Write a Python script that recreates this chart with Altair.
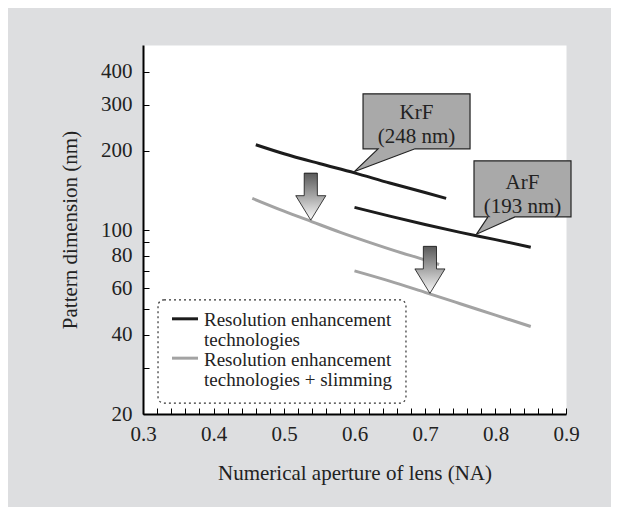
import altair as alt
import pandas as pd

# ---- data ----
krf_na = [0.46, 0.50, 0.55, 0.60, 0.65, 0.70, 0.73]
krf_nm = [211, 195, 179, 165, 151, 139, 132]

arf_na = [0.60, 0.65, 0.70, 0.75, 0.80, 0.85]
arf_nm = [122, 113, 105, 98, 92, 86]

krf_slim_na = [0.455, 0.50, 0.54, 0.58, 0.62, 0.66, 0.70, 0.72]
krf_slim_nm = [132, 118, 107.5, 98, 90, 83, 77, 74]

arf_slim_na = [0.60, 0.65, 0.70, 0.75, 0.80, 0.85]
arf_slim_nm = [70, 64, 58, 52.5, 47.5, 43]

series_labels = ["Resolution enhancement\ntechnologies",
                 "Resolution enhancement\ntechnologies + slimming"]
series_colors = ["#1c1c1c", "#a3a3a3"]

# annotations (data coordinates)
arrow_na = [0.538, 0.707]
arrow_nm = [134, 70.6]

callout_na = [0.688, 0.8383]
callout_nm = [259, 143.4]
callout_text = ["KrF\n(248 nm)", "ArF\n(193 nm)"]
callout_text_nm = [279, 151]

# legend (drawn in data coordinates)
frame_na = [0.3213, 0.673]
frame_nm = [22.0, 54.3]
legend_sym_na = [0.3411, 0.378]
legend_sym_nm = [46.0, 32.6]
legend_text_na = [0.3865, 0.3865]
legend_text_nm = [45.5, 32.1]

x_ticks = [round(0.3 + 0.02 * i, 2) for i in range(31)]
y_ticks = [20, 30, 40, 50, 60, 70, 80, 90, 100, 200, 300, 400]

# ---- build tables ----
rows = []
for name, kind, xs, ys in [
    ("KrF", series_labels[0], krf_na, krf_nm),
    ("ArF", series_labels[0], arf_na, arf_nm),
    ("KrF slim", series_labels[1], krf_slim_na, krf_slim_nm),
    ("ArF slim", series_labels[1], arf_slim_na, arf_slim_nm),
]:
    for x, y in zip(xs, ys):
        rows.append({"curve": name, "kind": kind, "na": x, "nm": y})
df = pd.DataFrame(rows)

arrows_df = pd.DataFrame({"na": arrow_na, "nm": arrow_nm})
krf_df = pd.DataFrame({"na": [callout_na[0]], "nm": [callout_nm[0]]})
arf_df = pd.DataFrame({"na": [callout_na[1]], "nm": [callout_nm[1]]})
text_df = pd.DataFrame({"na": callout_na, "nm": callout_text_nm, "label": callout_text})
frame_df = pd.DataFrame({"x0": [frame_na[0]], "x1": [frame_na[1]],
                         "y0": [frame_nm[0]], "y1": [frame_nm[1]]})
leg_sym_df = pd.DataFrame({"x0": [legend_sym_na[0]] * 2, "x1": [legend_sym_na[1]] * 2,
                           "nm": legend_sym_nm, "kind": series_labels})
leg_text_df = pd.DataFrame({"na": legend_text_na, "nm": legend_text_nm,
                            "label": series_labels})

FONT = "Liberation Serif"
X_TITLE = "Numerical aperture of lens (NA)"
Y_TITLE = "Pattern dimension (nm)"

x_scale = alt.Scale(domain=[0.3, 0.9], nice=False, zero=False)
y_scale = alt.Scale(type="log", domain=[20, 505], nice=False)
color_scale = alt.Scale(domain=series_labels, range=series_colors)

x_axis = alt.Axis(
    values=x_ticks,
    labelExpr="abs(datum.value*10 - round(datum.value*10)) < 0.0001 ? format(datum.value, '.1f') : ''",
    tickSize={"expr": "-6"},
    labelPadding=15,
    labelFlush=False,
    titlePadding=18,
    grid=False,
)
y_axis = alt.Axis(
    values=y_ticks,
    labelExpr="indexof([30, 50, 70, 90], datum.value) >= 0 ? '' : format(datum.value, 'd')",
    tickSize={"expr": "-6"},
    labelPadding=17,
    labelFlush=False,
    titlePadding=20,
    grid=False,
)


def X(field):
    return alt.X(field, type="quantitative", scale=x_scale, axis=x_axis, title=X_TITLE)


def Y(field):
    return alt.Y(field, type="quantitative", scale=y_scale, axis=y_axis, title=Y_TITLE)


lines = alt.Chart(df).mark_line(strokeWidth=3, interpolate="monotone", strokeCap="butt").encode(
    x=X("na"),
    y=Y("nm"),
    color=alt.Color("kind:N", scale=color_scale, legend=None),
    detail="curve:N",
)

frame = alt.Chart(frame_df).mark_rect(
    fillOpacity=0, stroke="#333333", strokeWidth=1.2, strokeDash=[2, 3], cornerRadius=6
).encode(x=X("x0"), x2="x1", y=Y("y0"), y2="y1")

leg_syms = alt.Chart(leg_sym_df).mark_rule(strokeWidth=3).encode(
    x=X("x0"), x2="x1", y=Y("nm"),
    color=alt.Color("kind:N", scale=color_scale, legend=None),
)

leg_texts = alt.Chart(leg_text_df).mark_text(
    font=FONT, fontSize=19, lineBreak="\n", lineHeight=20, align="left",
    baseline="middle", color="#222222"
).encode(x=X("na"), y=Y("nm"), text="label:N")

arrow_path = "M-0.28,-1 L0.28,-1 L0.28,-0.04 L0.64,-0.04 L0,1 L-0.64,-0.04 L-0.28,-0.04 Z"
gradient = alt.LinearGradient(
    gradient="linear",
    stops=[alt.GradientStop(color="#5a5a5a", offset=0),
           alt.GradientStop(color="#a0a0a0", offset=0.45),
           alt.GradientStop(color="#fbfbfb", offset=1)],
    x1=0, x2=0, y1=0, y2=1,
)
arrows = alt.Chart(arrows_df).mark_point(
    shape=arrow_path, size=2209, filled=True, fill=gradient, stroke="#111111",
    strokeWidth=0.8, opacity=1
).encode(x=X("na"), y=Y("nm"))

krf_path = ("M-53.5,-27.5 L53.5,-27.5 L53.5,27.5 L-1.5,27.5 L-62.5,50.5 "
            "L-38.5,27.5 L-53.5,27.5 Z")
arf_path = ("M-48.5,-28 L48.5,-28 L48.5,28 L-7.5,28 L-46,45.3 "
            "L-34.5,28 L-48.5,28 Z")

krf_box = alt.Chart(krf_df).mark_point(
    shape=krf_path, size=4, filled=True, fill="#a9a9a9", stroke="#222222",
    strokeWidth=1.2, opacity=1
).encode(x=X("na"), y=Y("nm"))

arf_box = alt.Chart(arf_df).mark_point(
    shape=arf_path, size=4, filled=True, fill="#a9a9a9", stroke="#222222",
    strokeWidth=1.2, opacity=1
).encode(x=X("na"), y=Y("nm"))

texts = alt.Chart(text_df).mark_text(
    font=FONT, fontSize=21, lineBreak="\n", lineHeight=24, align="center",
    baseline="middle", color="#222222"
).encode(x=X("na"), y=Y("nm"), text="label:N")

chart = alt.layer(
    lines, frame, leg_syms, leg_texts, arrows, krf_box, arf_box, texts
).properties(
    width=423,
    height=369,
    background="#dddee0",
    autosize=alt.AutoSizeParams(type="none"),
    padding={"left": 135, "top": 37, "right": 45, "bottom": 93},
).configure_view(
    fill="white", strokeOpacity=0
).configure_axis(
    domainColor="#000000",
    domainWidth=2,
    tickColor="#000000",
    tickWidth=1,
    labelFont=FONT,
    labelFontSize=21,
    labelColor="#222222",
    titleFont=FONT,
    titleFontSize=21,
    titleFontWeight="normal",
    titleColor="#222222",
)

chart.save("out.html", embed_options={"renderer": "svg", "actions": False})
